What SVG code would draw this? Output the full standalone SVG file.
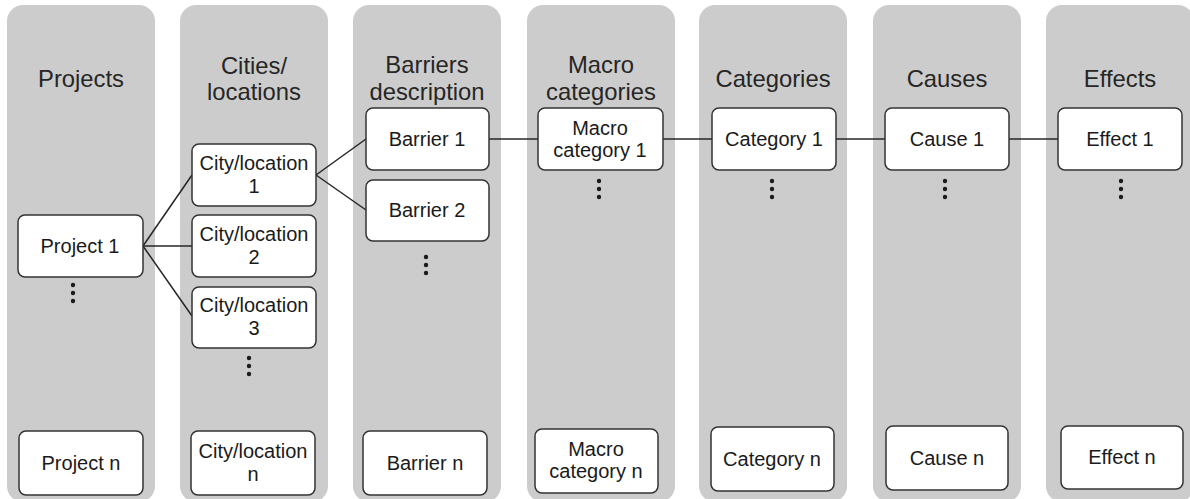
<svg xmlns="http://www.w3.org/2000/svg" width="1190" height="499" viewBox="0 0 1190 499">
<style>
.col{fill:#cccccc;}
.box{fill:#ffffff;stroke:#333333;stroke-width:1.5;}
.hd{font-family:"Liberation Sans",Arial,sans-serif;font-size:23.8px;fill:#262626;text-anchor:middle;}
.tx{font-family:"Liberation Sans",Arial,sans-serif;font-size:20px;fill:#1a1a1a;text-anchor:middle;}
.ln{stroke:#262626;stroke-width:1.5;fill:none;}
.dot{fill:#1a1a1a;}
</style>
<g id="columns">
<rect class="col" x="7" y="5" width="148" height="497" rx="16"/>
<rect class="col" x="180" y="5" width="148" height="497" rx="16"/>
<rect class="col" x="353" y="5" width="148" height="497" rx="16"/>
<rect class="col" x="527" y="5" width="148" height="497" rx="16"/>
<rect class="col" x="699" y="5" width="148" height="497" rx="16"/>
<rect class="col" x="873" y="5" width="148" height="497" rx="16"/>
<rect class="col" x="1046" y="5" width="148" height="497" rx="16"/>
</g>
<g id="headers">
<text class="hd" x="81" y="87">Projects</text>
<text class="hd" x="254" y="74">Cities/</text>
<text class="hd" x="254" y="100">locations</text>
<text class="hd" x="427" y="73">Barriers</text>
<text class="hd" x="427" y="100">description</text>
<text class="hd" x="601" y="73">Macro</text>
<text class="hd" x="601" y="100">categories</text>
<text class="hd" x="773" y="87">Categories</text>
<text class="hd" x="947" y="87">Causes</text>
<text class="hd" x="1120" y="87">Effects</text>
</g>
<g id="connectors">
<line class="ln" x1="143" y1="246" x2="192" y2="175"/>
<line class="ln" x1="143" y1="246" x2="192" y2="246"/>
<line class="ln" x1="143" y1="246" x2="192" y2="316"/>
<line class="ln" x1="316" y1="175" x2="366" y2="139"/>
<line class="ln" x1="316" y1="175" x2="366" y2="210"/>
<line class="ln" x1="489" y1="139" x2="538" y2="139"/>
<line class="ln" x1="663" y1="139" x2="712" y2="139"/>
<line class="ln" x1="836" y1="139" x2="885" y2="139"/>
<line class="ln" x1="1009" y1="139" x2="1058" y2="139"/>
</g>
<g id="project1"><rect class="box" x="18" y="215" width="125" height="62" rx="7"/><text class="tx" x="80" y="253">Project 1</text></g>
<g id="projectn"><rect class="box" x="19" y="431" width="124" height="64" rx="7"/><text class="tx" x="81" y="470">Project n</text></g>
<g id="city1"><rect class="box" x="192" y="144" width="124" height="62" rx="7"/><text class="tx" x="254" y="170">City/location</text><text class="tx" x="254" y="193">1</text></g>
<g id="city2"><rect class="box" x="192" y="215" width="124" height="62" rx="7"/><text class="tx" x="254" y="241">City/location</text><text class="tx" x="254" y="264">2</text></g>
<g id="city3"><rect class="box" x="192" y="287" width="124" height="61" rx="7"/><text class="tx" x="254" y="312">City/location</text><text class="tx" x="254" y="335">3</text></g>
<g id="cityn"><rect class="box" x="191" y="431" width="124" height="64" rx="7"/><text class="tx" x="253" y="458">City/location</text><text class="tx" x="253" y="481">n</text></g>
<g id="barrier1"><rect class="box" x="366" y="108" width="123" height="62" rx="7"/><text class="tx" x="427" y="146">Barrier 1</text></g>
<g id="barrier2"><rect class="box" x="366" y="180" width="123" height="61" rx="7"/><text class="tx" x="427" y="217">Barrier 2</text></g>
<g id="barriern"><rect class="box" x="363" y="431" width="124" height="64" rx="7"/><text class="tx" x="425" y="470">Barrier n</text></g>
<g id="macro1"><rect class="box" x="538" y="108" width="125" height="62" rx="7"/><text class="tx" x="600" y="135">Macro</text><text class="tx" x="600" y="157">category 1</text></g>
<g id="macron"><rect class="box" x="535" y="429" width="123" height="64" rx="7"/><text class="tx" x="596" y="456">Macro</text><text class="tx" x="596" y="478">category n</text></g>
<g id="category1"><rect class="box" x="712" y="108" width="124" height="62" rx="7"/><text class="tx" x="774" y="146">Category 1</text></g>
<g id="categoryn"><rect class="box" x="711" y="427" width="123" height="64" rx="7"/><text class="tx" x="772" y="466">Category n</text></g>
<g id="cause1"><rect class="box" x="885" y="108" width="124" height="62" rx="7"/><text class="tx" x="947" y="146">Cause 1</text></g>
<g id="causen"><rect class="box" x="886" y="426" width="122" height="64" rx="7"/><text class="tx" x="947" y="465">Cause n</text></g>
<g id="effect1"><rect class="box" x="1058" y="108" width="124" height="62" rx="7"/><text class="tx" x="1120" y="146">Effect 1</text></g>
<g id="effectn"><rect class="box" x="1061" y="426" width="122" height="63" rx="7"/><text class="tx" x="1122" y="464">Effect n</text></g>
<g id="ellipses">
<circle class="dot" cx="73" cy="285" r="2.2"/><circle class="dot" cx="73" cy="293" r="2.2"/><circle class="dot" cx="73" cy="301" r="2.2"/>
<circle class="dot" cx="249" cy="358" r="2.2"/><circle class="dot" cx="249" cy="366" r="2.2"/><circle class="dot" cx="249" cy="374" r="2.2"/>
<circle class="dot" cx="426" cy="257" r="2.2"/><circle class="dot" cx="426" cy="265" r="2.2"/><circle class="dot" cx="426" cy="273" r="2.2"/>
<circle class="dot" cx="599" cy="181" r="2.2"/><circle class="dot" cx="599" cy="189" r="2.2"/><circle class="dot" cx="599" cy="197" r="2.2"/>
<circle class="dot" cx="772" cy="181" r="2.2"/><circle class="dot" cx="772" cy="189" r="2.2"/><circle class="dot" cx="772" cy="197" r="2.2"/>
<circle class="dot" cx="945" cy="181" r="2.2"/><circle class="dot" cx="945" cy="189" r="2.2"/><circle class="dot" cx="945" cy="197" r="2.2"/>
<circle class="dot" cx="1121" cy="181" r="2.2"/><circle class="dot" cx="1121" cy="189" r="2.2"/><circle class="dot" cx="1121" cy="197" r="2.2"/>
</g>
</svg>
